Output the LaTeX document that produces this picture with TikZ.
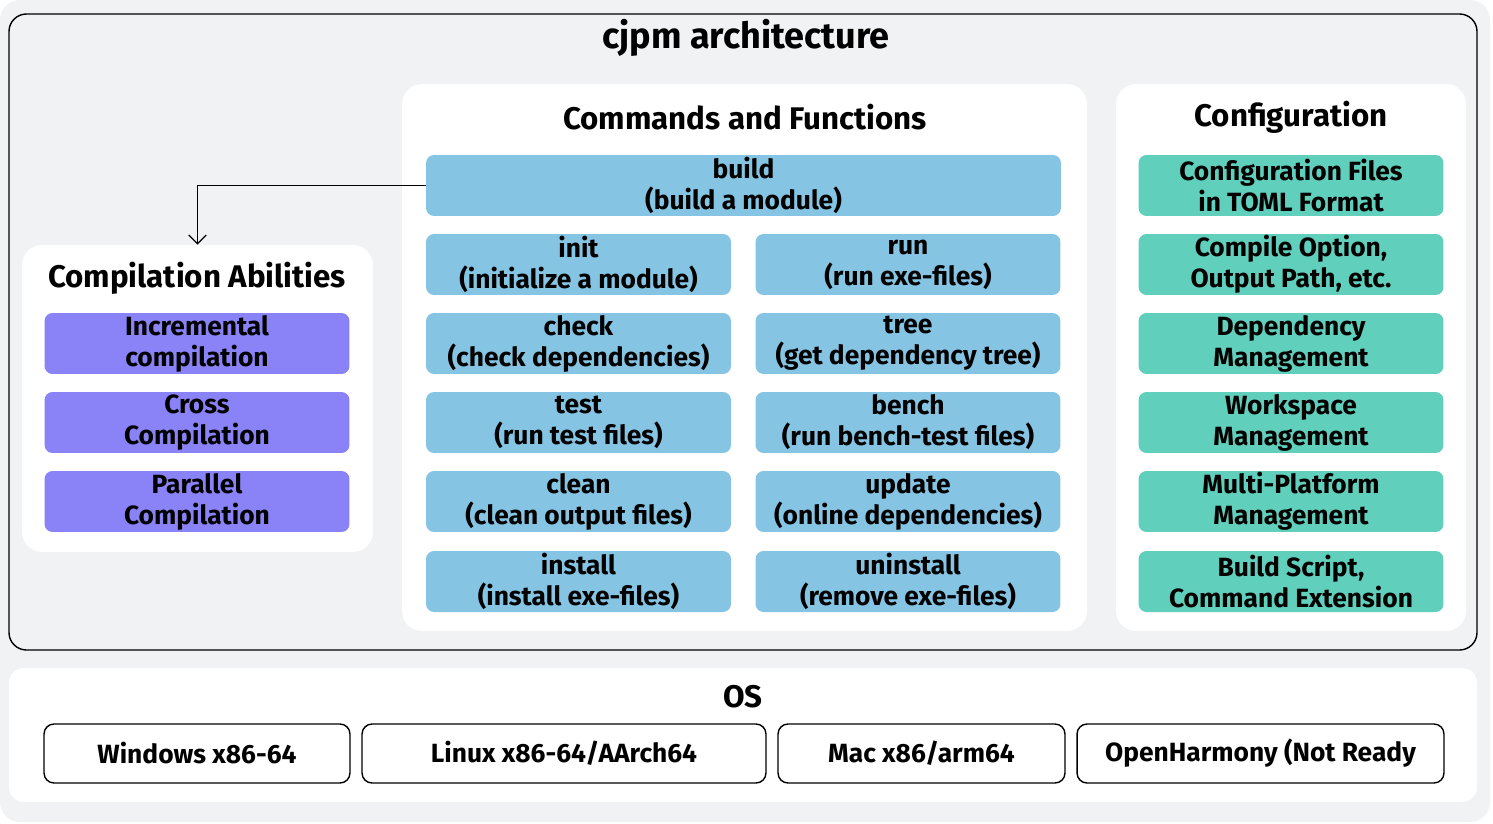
\documentclass[tikz,border=0pt]{standalone}
\usepackage{fontspec}
\setmainfont{Fira Sans}
\usepackage{tikz}
\usetikzlibrary{arrows.meta, positioning, calc}

\definecolor{bggray}{HTML}{F1F2F4}
\definecolor{cmdblue}{HTML}{85C4E2}
\definecolor{abilitypurple}{HTML}{8A82F7}
\definecolor{cfgteal}{HTML}{60CFBC}

\begin{document}
\begin{tikzpicture}[x=0.02cm, y=-0.02cm, font=\fontsize{15}{17.6}\selectfont\bfseries,
    panel/.style={fill=white, rounded corners=0.4cm, inner sep=0pt},
    cmdbox/.style={fill=cmdblue, rounded corners=0.16cm, align=center, inner sep=0pt, minimum width=6.1cm, minimum height=1.22cm},
    cfgbox/.style={cmdbox, fill=cfgteal},
    abilitybox/.style={cmdbox, fill=abilitypurple},
    osbox/.style={draw=black, line width=0.8pt, fill=white, rounded corners=0.2cm, inner sep=0pt, minimum height=1.18cm},
    paneltitle/.style={font=\fontsize{17.8}{21}\selectfont\bfseries}]
    \useasboundingbox (0,0) rectangle (1493,824);
    \fill[bggray, rounded corners=0.4cm] (0,0) rectangle (1490,822);

    % cjpm frame
    \draw[line width=0.8pt, rounded corners=0.35cm] (9,14) rectangle (1477,650);
    \node[font=\fontsize{20.5}{24}\selectfont\bfseries] (title) at (746,38) {cjpm architecture};

    % panels
    \node[panel, minimum width=13.7cm, minimum height=10.94cm] (cmdpanel) at (744.5,357.5) {};
    \node[panel, minimum width=7cm, minimum height=10.94cm] (cfgpanel) at (1291,357.5) {};
    \node[panel, minimum width=7.02cm, minimum height=6.14cm] (abilitypanel) at (197.5,398.5) {};

    % commands and functions
    \node[paneltitle] (cmdtitle) at (745,117) {Commands and Functions};
    \node[cmdbox, minimum width=12.7cm] (build) at (743.5,185.5) {build\\(build a module)};
    \node[cmdbox] (init) at (578.5,264.5) {init\\(initialize a module)};
    \node[cmdbox] (run) at (908,264.5) {run\\(run exe-files)};
    \node[cmdbox] (check) at (578.5,343.5) {check\\(check dependencies)};
    \node[cmdbox] (tree) at (908,343.5) {tree\\(get dependency tree)};
    \node[cmdbox] (test) at (578.5,422.5) {test\\(run test files)};
    \node[cmdbox] (bench) at (908,422.5) {bench\\(run bench-test files)};
    \node[cmdbox] (clean) at (578.5,501.5) {clean\\(clean output files)};
    \node[cmdbox] (update) at (908,501.5) {update\\(online dependencies)};
    \node[cmdbox] (install) at (578.5,581.5) {install\\(install exe-files)};
    \node[cmdbox] (uninstall) at (908,581.5) {uninstall\\(remove exe-files)};

    % configuration
    \node[paneltitle] (cfgtitle) at (1291,117) {Configuration};
    \node[cfgbox] (toml) at (1291,185.5) {Configuration Files\\in TOML Format};
    \node[cfgbox] (option) at (1291,264.5) {Compile Option,\\Output Path, etc.};
    \node[cfgbox] (depmgmt) at (1291,343.5) {Dependency\\Management};
    \node[cfgbox] (workspace) at (1291,422.5) {Workspace\\Management};
    \node[cfgbox] (platform) at (1291,501.5) {Multi-Platform\\Management};
    \node[cfgbox] (script) at (1291,581.5) {Build Script,\\Command Extension};

    % compilation abilities
    \node[paneltitle] (abilitytitle) at (197,278) {Compilation Abilities};
    \node[abilitybox] (incremental) at (197,343.5) {Incremental\\compilation};
    \node[abilitybox] (cross) at (197,422.5) {Cross\\Compilation};
    \node[abilitybox] (parallel) at (197,501.5) {Parallel\\Compilation};

    \draw[line width=0.7pt, -{Straight Barb[length=5pt, width=10pt]}] (build.west) -| (abilitypanel.north);

    % OS
    \fill[white, rounded corners=0.3cm] (9,668) rectangle (1477,802);
    \node[paneltitle] (ostitle) at (743,697) {OS};
    \node[osbox, minimum width=6.12cm] (windows) at (197,753.5) {Windows x86-64};
    \node[osbox, minimum width=8.08cm] (linux) at (564,753.5) {Linux x86-64/AArch64};
    \node[osbox, minimum width=5.74cm] (mac) at (921.5,753.5) {Mac x86/arm64};
    \node[osbox, minimum width=7.34cm] (openharmony) at (1260.5,753.5) {OpenHarmony (Not Ready};
\end{tikzpicture}
\end{document}
